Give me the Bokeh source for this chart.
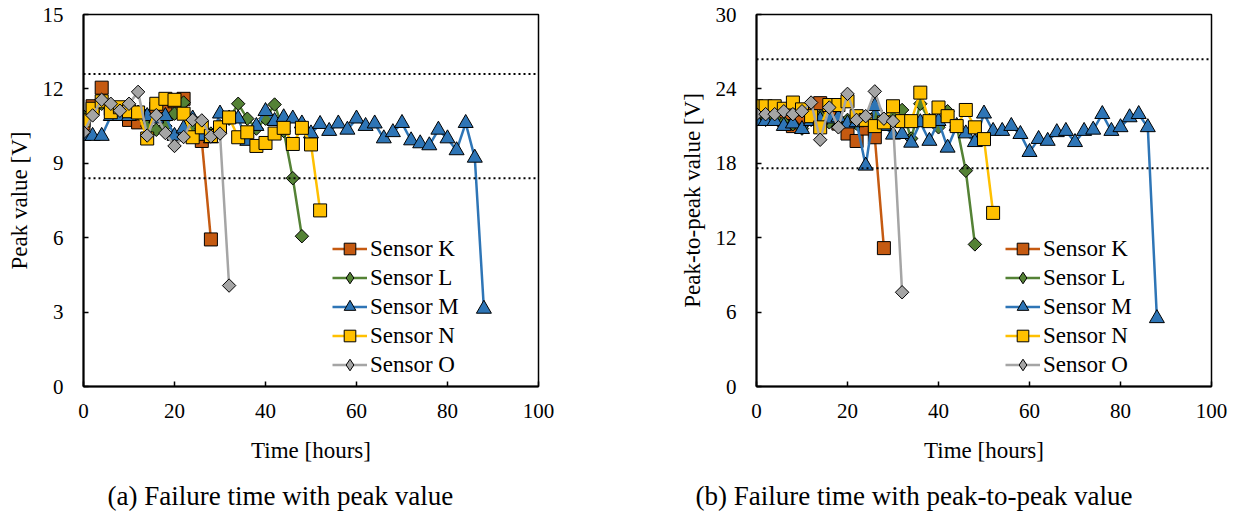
from bokeh.plotting import figure
from bokeh.models import Range1d, FixedTicker, Span, Legend, LegendItem, Title
from bokeh.layouts import row
from bokeh.embed import file_html
from bokeh.resources import INLINE

# ---------------- data ----------------
hours_K = [0, 2, 4, 6, 8, 10, 12, 14, 16, 18, 20, 22, 24, 26, 28]
hours_L = [0, 2, 4, 6, 8, 10, 12, 14, 16, 18, 20, 22, 24, 26, 28, 30, 32, 34, 36, 38, 40, 42, 44, 46, 48]
hours_M = [0, 2, 4, 6, 8, 10, 12, 14, 16, 18, 20, 22, 24, 26, 28, 30, 32, 34, 36, 38, 40, 42, 44,
           46, 48, 50, 52, 54, 56, 58, 60, 62, 64, 66, 68, 70, 72, 74, 76, 78, 80, 82, 84, 86, 88]
hours_N = [0, 2, 4, 6, 8, 10, 12, 14, 16, 18, 20, 22, 24, 26, 28, 30, 32, 34, 36, 38, 40, 42, 44, 46, 48, 50, 52]
hours_O = [0, 2, 4, 6, 8, 10, 12, 14, 16, 18, 20, 22, 24, 26, 28, 30, 32]

# (a) peak value [V]
peak_K = [10.6, 11.3, 12.05, 11.2, 11.1, 10.75, 10.65, 10.9, 11.2, 11.3, 11.5, 11.6, 10.6, 9.9, 5.93]
peak_L = [10.9, 11.1, 11.4, 11.2, 11.2, 11.1, 11.0, 10.5, 10.35, 10.5, 11.0, 11.45, 10.5, 10.4, 10.2,
          10.5, 10.8, 11.4, 10.8, 10.4, 10.8, 11.37, 10.3, 8.4, 6.06]
peak_M = [10.1, 10.1, 10.1, 10.9, 10.9, 10.9, 11.0, 10.9, 10.8, 10.9, 10.1, 10.4, 10.8, 10.1, 10.0,
          11.0, 10.8, 10.8, 9.9, 10.5, 11.1, 10.7, 10.85, 10.8, 10.6, 10.2, 10.58, 10.3, 10.6, 10.35,
          10.8, 10.5, 10.6, 10.0, 10.25, 10.62, 9.92, 9.8, 9.72, 10.35, 10.0, 9.52, 10.62, 9.22, 3.13]
peak_N = [10.73, 11.2, 11.5, 11.06, 11.26, 11.1, 11.05, 10.0, 11.4, 11.6, 11.56, 11.0, 10.05, 10.45,
          10.1, 10.45, 10.85, 10.05, 10.25, 9.7, 9.82, 10.2, 10.43, 9.78, 10.43, 9.76, 7.1]
peak_O = [10.25, 10.93, 11.56, 11.4, 11.12, 11.4, 11.88, 10.12, 10.94, 10.22, 9.7, 10.06, 10.75,
          10.73, 10.08, 10.2, 4.07]

# (b) peak-to-peak value [V]
p2p_K = [22.0, 22.2, 22.0, 21.5, 21.0, 21.5, 22.0, 22.85, 21.8, 21.2, 20.4, 19.8, 20.8, 20.1, 11.16]
p2p_L = [21.8, 21.5, 21.6, 21.3, 21.15, 20.8, 21.5, 21.8, 21.3, 21.0, 21.5, 21.2, 21.6, 21.8, 21.5,
         22.0, 22.3, 20.0, 22.8, 21.5, 20.9, 22.2, 21.0, 17.4, 11.46]
p2p_M = [21.4, 21.4, 21.4, 21.0, 21.2, 20.75, 21.4, 21.5, 21.6, 21.7, 21.2, 21.3, 17.8, 22.6, 21.0,
         20.3, 20.35, 19.65, 21.3, 19.8, 21.4, 19.25, 21.0, 20.4, 19.7, 22.0, 20.6, 20.6, 21.0, 20.35,
         18.9, 19.95, 19.8, 20.5, 20.6, 19.7, 20.6, 20.7, 21.96, 20.6, 20.9, 21.7, 21.96, 20.9, 5.5]
p2p_N = [22.6, 22.6, 22.6, 22.4, 22.9, 22.35, 21.8, 20.9, 22.7, 22.7, 23.0, 21.8, 21.5, 21.0, 21.3,
         22.6, 21.4, 21.4, 23.7, 21.4, 22.5, 21.8, 21.0, 22.3, 20.9, 19.95, 14.0]
p2p_O = [21.96, 21.96, 21.96, 22.2, 21.96, 22.2, 22.9, 19.9, 22.5, 20.9, 23.6, 21.5, 21.8, 23.8,
         21.6, 21.4, 7.6]

series_names = ["Sensor K", "Sensor L", "Sensor M", "Sensor N", "Sensor O"]
x_ticks = [0, 20, 40, 60, 80, 100]
y_ticks_a = [0, 3, 6, 9, 12, 15]
y_ticks_b = [0, 6, 12, 18, 24, 30]
thresholds_a = [12.6, 8.4]
thresholds_b = [26.4, 17.6]

# ---------------- style ----------------
FONT = "Liberation Serif"
colors = ["#C55A11", "#548235", "#2E75B6", "#FFC000", "#A5A5A5"]
markers = ["square", "square", "triangle", "square", "square"]
angles = [0, 0.785398, 0, 0, 0.785398]
legend_markers = ["square", "diamond", "triangle", "square", "diamond"]
sizes = [13, 9.5, 15, 13, 9.5]
legend_sizes = [13, 15, 15, 13, 15]


def make_chart(hours_list, values_list, ymax, yticks, ylabel, thresholds, caption,
               left_border, right_border, cap_offset):
    p = figure(width=619, height=523, output_backend="svg", toolbar_location=None,
               x_range=Range1d(0, 100), y_range=Range1d(0, ymax),
               min_border_left=left_border, min_border_right=right_border,
               min_border_top=14, min_border_bottom=137)
    p.background_fill_color = "white"
    p.border_fill_color = "white"
    p.outline_line_color = "black"
    p.outline_line_width = 1.5
    p.xgrid.visible = False
    p.ygrid.visible = False

    for ax, ticks in ((p.xaxis[0], x_ticks), (p.yaxis[0], yticks)):
        ax.ticker = FixedTicker(ticks=ticks)
        ax.major_tick_in = 5
        ax.major_tick_out = 0
        ax.minor_tick_in = 0
        ax.minor_tick_out = 0
        ax.axis_line_color = "black"
        ax.axis_line_width = 2
        ax.major_tick_line_color = "black"
        ax.major_tick_line_width = 1.5
        ax.major_label_text_font = FONT
        ax.major_label_text_font_size = "21px"
        ax.major_label_text_color = "black"
        ax.axis_label_text_font = FONT
        ax.axis_label_text_font_size = "23px"
        ax.axis_label_text_font_style = "normal"
        ax.axis_label_text_color = "black"
    p.xaxis.axis_label = "Time [hours]"
    p.yaxis.axis_label = ylabel
    p.xaxis.major_label_standoff = 17
    p.xaxis.axis_label_standoff = 17
    p.yaxis.major_label_standoff = 20
    p.yaxis.axis_label_standoff = 8

    for t in thresholds:
        p.add_layout(Span(location=t, dimension="width", line_color="black",
                          line_width=2, line_dash="2 3"))

    items = []
    for name, hrs, vals, c, m, a, s, lm, ls in zip(series_names, hours_list, values_list,
                                                   colors, markers, angles, sizes,
                                                   legend_markers, legend_sizes):
        ln = p.line(hrs, vals, line_color=c, line_width=2.5)
        p.scatter(hrs, vals, marker=m, angle=a, size=s, fill_color=c,
                  line_color="black", line_width=1)
        # legend-only marker, placed outside the visible range
        lg = p.scatter(x=[-50], y=[-50], marker=lm, size=ls, fill_color=c,
                       line_color="black", line_width=1)
        items.append(LegendItem(label=name, renderers=[ln, lg]))

    legend = Legend(items=items, location=(249, 7), glyph_width=35, glyph_height=29,
                    label_height=29, spacing=0, padding=0, margin=0, label_standoff=3,
                    label_text_font=FONT, label_text_font_size="23px",
                    label_text_color="black",
                    background_fill_alpha=0, border_line_alpha=0)
    p.add_layout(legend)

    cap = Title(text=caption, align="left", offset=cap_offset, standoff=26, text_font=FONT,
                text_font_size="27px", text_font_style="normal", text_color="black")
    p.add_layout(cap, "below")
    return p


p1 = make_chart([hours_K, hours_L, hours_M, hours_N, hours_O],
                [peak_K, peak_L, peak_M, peak_N, peak_O],
                15, y_ticks_a, "Peak value [V]", thresholds_a,
                "(a) Failure time with peak value", 83, 81, 24)
p2 = make_chart([hours_K, hours_L, hours_M, hours_N, hours_O],
                [p2p_K, p2p_L, p2p_M, p2p_N, p2p_O],
                30, y_ticks_b, "Peak-to-peak value [V]", thresholds_b,
                "(b) Failure time with peak-to-peak value", 137, 27, -61)

layout = row(p1, p2)
open("out.html", "w").write(file_html(layout, INLINE))
